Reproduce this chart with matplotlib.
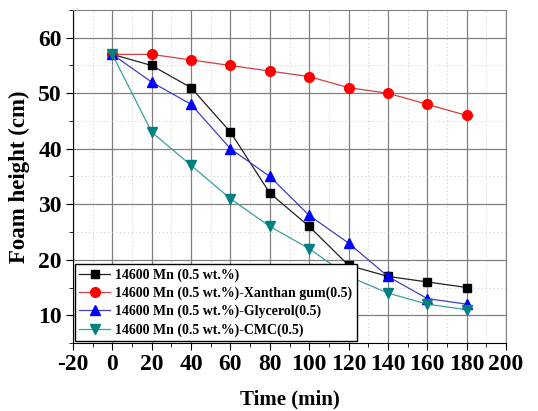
import matplotlib
matplotlib.use("Agg")
import matplotlib.pyplot as plt
from matplotlib.ticker import MultipleLocator

time = [0, 20, 40, 60, 80, 100, 120, 140, 160, 180]
base = [57, 55, 51, 43, 32, 26, 19, 17, 16, 15]
xanthan = [57, 57, 56, 55, 54, 53, 51, 50, 48, 46]
glycerol = [57, 52, 48, 40, 35, 28, 23, 17, 13, 12]
cmc = [57, 43, 37, 31, 26, 22, 17, 14, 12, 11]
labels = ["14600 Mn (0.5 wt.%)",
          "14600 Mn (0.5 wt.%)-Xanthan gum(0.5)",
          "14600 Mn (0.5 wt.%)-Glycerol(0.5)",
          "14600 Mn (0.5 wt.%)-CMC(0.5)"]

plt.rcParams['font.family'] = ['Liberation Serif', 'DejaVu Serif']
plt.rcParams['font.weight'] = 'bold'
plt.rcParams['axes.unicode_minus'] = False

fig = plt.figure(figsize=(5.38, 4.11), dpi=100)
ax = fig.add_axes([73/538, 1-343/411, (506-73)/538, (343-10)/411])

line_colors = ['#202020', '#d04040', '#4040c0', '#3aa0a0']
mark_colors = ['black', '#ff0000', '#0000ff', '#008080']
series = [base, xanthan, glycerol, cmc]
markers = ['s', 'o', '^', 'v']
sizes = [6, 7, 7.5, 7.5]
for ys, lab, lc, mc, m, s in zip(series, labels, line_colors, mark_colors, markers, sizes):
    ax.plot(time, ys, '-', marker=m, color=lc, mfc=mc, mec=mc, ms=s, lw=0.9,
            label=lab, zorder=5)

ax.set_xlim(-20, 200)
ax.set_ylim(5, 65)
ax.xaxis.set_major_locator(MultipleLocator(20))
ax.xaxis.set_minor_locator(MultipleLocator(10))
ax.yaxis.set_major_locator(MultipleLocator(10))
ax.yaxis.set_minor_locator(MultipleLocator(5))
ax.grid(True, which='major', color='#808080', lw=0.9)
ax.grid(True, which='minor', color='#c8c8c8', lw=0.7, ls=(0, (1, 3)))
ax.set_axisbelow(True)

ax.tick_params(which='both', direction='out', top=False, right=False, labelsize=17)
ax.tick_params(which='major', length=5, pad=3)
ax.tick_params(which='minor', length=3)
for s in ['top', 'right']:
    ax.spines[s].set_color('#808080')
for t in ax.get_xticklabels() + ax.get_yticklabels():
    t.set_fontweight('bold')

ax.set_xlabel('Time (min)', fontsize=15, fontweight='bold', labelpad=10)
ax.set_ylabel('Foam height (cm)', fontsize=16.5, fontweight='bold', labelpad=6)

leg = ax.legend(loc='lower left', fontsize=10, frameon=True, fancybox=False,
                edgecolor='black', framealpha=1, borderpad=0.3, labelspacing=0.35,
                handlelength=2.2, borderaxespad=0.15, handletextpad=0.4)
leg.get_frame().set_linewidth(1.0)
leg.set_zorder(10)

fig.savefig('out.png', dpi=100)
